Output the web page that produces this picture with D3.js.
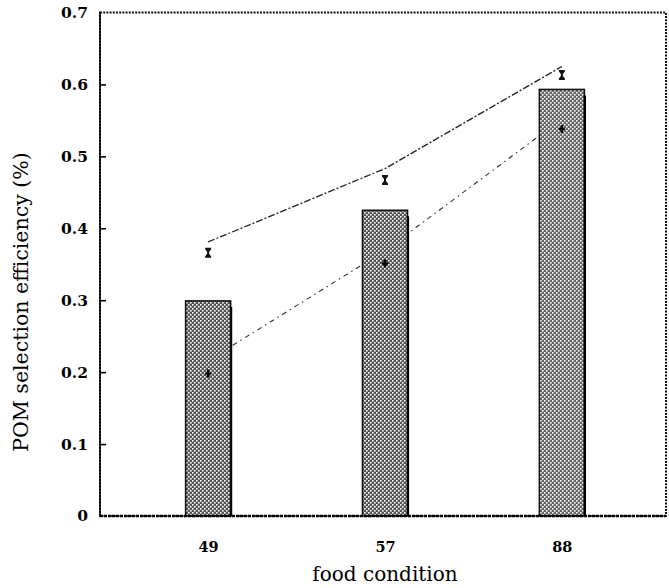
<!DOCTYPE html>
<html><head><meta charset="utf-8">
<script src="https://cdn.jsdelivr.net/npm/d3@7"></script>
<style>body{margin:0;background:#fff}svg{display:block}</style>
</head><body>
<script>
const categories = ["49", "57", "88"];
const barValues = [0.299, 0.425, 0.593];
const upperPoints = [0.366, 0.467, 0.613];
const lowerPoints = [0.198, 0.351, 0.538];
const upperLine = [0.381, 0.483, 0.625];
const lowerLine = [0.216, 0.369, 0.552];
const yTicks = [0, 0.1, 0.2, 0.3, 0.4, 0.5, 0.6, 0.7];

const W = 669, H = 588;
const svg = d3.select("body").append("svg").attr("width", W).attr("height", H);
const x = d3.scalePoint().domain(categories).range([102, 668]).padding(0.6);
const y = d3.scaleLinear().domain([0, 0.7]).range([516, 12.5]);
const barW = 45;

const defs = svg.append("defs");
const mkPat = (id, base) => {
  const p = defs.append("pattern").attr("id", id).attr("patternUnits", "userSpaceOnUse")
    .attr("width", 4).attr("height", 4);
  p.append("rect").attr("width", 4).attr("height", 4).attr("fill", base);
  p.append("rect").attr("x", 0).attr("y", 0).attr("width", 1.6).attr("height", 1.6).attr("fill", "#fff");
  p.append("rect").attr("x", 2).attr("y", 2).attr("width", 1.6).attr("height", 1.6).attr("fill", "#fff");
};
mkPat("pA", "#555");
mkPat("pB", "#666");
const fills = ["url(#pA)", "url(#pA)", "url(#pB)"];

const serif = "'DejaVu Serif', 'Liberation Serif', serif";

// lines (behind bars)
const line = d3.line().x((d, i) => x(categories[i])).y(d => y(d));
svg.append("path").datum(upperLine).attr("d", line).attr("fill", "none")
  .attr("stroke", "#222").attr("stroke-width", 1.3).attr("stroke-dasharray", "7,2,2,2");
svg.append("path").datum(lowerLine).attr("d", line).attr("fill", "none")
  .attr("stroke", "#333").attr("stroke-width", 1.1).attr("stroke-dasharray", "5,4,1.5,4");

// bars
svg.selectAll("rect.bar").data(barValues).join("rect").attr("class", "bar")
  .attr("x", (d, i) => x(categories[i]) - barW / 2)
  .attr("y", d => y(d))
  .attr("width", barW)
  .attr("height", d => y(0) - y(d))
  .attr("fill", (d, i) => fills[i])
  .attr("stroke", "#111").attr("stroke-width", 1.6);
svg.selectAll("line.shadow").data(barValues).join("line").attr("class", "shadow")
  .attr("x1", (d, i) => x(categories[i]) + barW / 2 + 0.5)
  .attr("x2", (d, i) => x(categories[i]) + barW / 2 + 0.5)
  .attr("y1", d => y(d) + 6).attr("y2", y(0))
  .attr("stroke", "#000").attr("stroke-width", 2.2);

// upper markers (I-shaped)
svg.selectAll("path.up").data(upperPoints).join("path").attr("class", "up")
  .attr("transform", (d, i) => `translate(${x(categories[i])},${y(d)})`)
  .attr("d", "M-3,-5 L3,-5 L3,-3.5 L1,-1 L1,1 L3,3.5 L3,5 L-3,5 L-3,3.5 L-1,1 L-1,-1 L-3,-3.5 Z")
  .attr("fill", "#111");
// lower markers (small cross)
svg.selectAll("path.low").data(lowerPoints).join("path").attr("class", "low")
  .attr("transform", (d, i) => `translate(${x(categories[i])},${y(d)})`)
  .attr("d", "M-1.2,-4 L1.2,-4 L1.2,-1.2 L3,-1.2 L3,1.2 L1.2,1.2 L1.2,4 L-1.2,4 L-1.2,1.2 L-3,1.2 L-3,-1.2 L-1.2,-1.2 Z")
  .attr("fill", "#000");

// frame
svg.append("rect").attr("x", 100).attr("y", 12.5).attr("width", 566).attr("height", 503.5)
  .attr("fill", "none").attr("stroke", "#111").attr("stroke-width", 2).attr("stroke-dasharray", "2,1.2");
svg.append("line").attr("x1", 100).attr("x2", 666).attr("y1", 516).attr("y2", 516)
  .attr("stroke", "#000").attr("stroke-width", 2.4).attr("stroke-dasharray", "3,1");
svg.append("line").attr("x1", 100).attr("x2", 100).attr("y1", 12.5).attr("y2", 516)
  .attr("stroke", "#000").attr("stroke-width", 1.6);

// y axis
const yAxis = d3.axisLeft(y).tickValues(yTicks).tickSizeInner(-6).tickSizeOuter(0).tickPadding(12)
  .tickFormat(d => d === 0 ? "0" : d3.format(".1f")(d));
const gy = svg.append("g").attr("transform", "translate(100,0)").call(yAxis);
gy.select(".domain").remove();
gy.selectAll(".tick line").attr("stroke", "#000").attr("stroke-width", 1.6)
  .filter(d => d === 0 || d === 0.7).remove();
gy.selectAll(".tick text").attr("font-family", serif).attr("font-size", 15.5)
  .attr("font-weight", "bold").attr("fill", "#000");

// x axis labels
const xAxis = d3.axisBottom(x).tickSize(0).tickPadding(26);
const gx = svg.append("g").attr("transform", "translate(0,516)").call(xAxis);
gx.select(".domain").remove();
gx.selectAll(".tick text").attr("font-family", serif).attr("font-size", 14.5)
  .attr("font-weight", "bold").attr("fill", "#000");

// axis titles
svg.append("text").attr("x", 385).attr("y", 581).attr("text-anchor", "middle")
  .attr("font-family", serif).attr("font-size", 20).attr("fill", "#000").text("food condition");
svg.append("text").attr("transform", "translate(28,302) rotate(-90)").attr("text-anchor", "middle")
  .attr("font-family", serif).attr("font-size", 20.5).attr("fill", "#000").text("POM selection efficiency (%)");
</script>
</body></html>
